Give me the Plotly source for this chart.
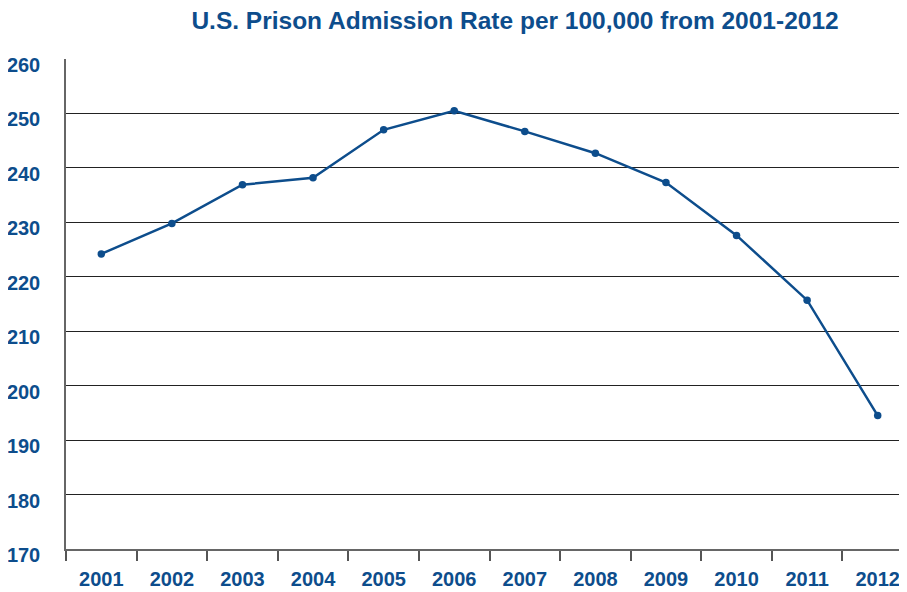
import plotly.graph_objects as go

years = ["2001", "2002", "2003", "2004", "2005", "2006",
         "2007", "2008", "2009", "2010", "2011", "2012"]
rates = [224.2, 229.8, 236.9, 238.2, 247.0, 250.5,
         246.7, 242.7, 237.3, 227.6, 215.7, 194.5]
y_ticks = [170, 180, 190, 200, 210, 220, 230, 240, 250, 260]

BLUE = "#0d4d8c"
FONT = "Liberation Sans, Arial, sans-serif"

fig = go.Figure()
fig.add_trace(go.Scatter(
    x=years, y=rates, mode="lines+markers",
    line=dict(color=BLUE, width=2.5),
    marker=dict(color=BLUE, size=7.5),
    cliponaxis=False, showlegend=False,
))

fig.update_layout(
    width=907, height=592,
    margin=dict(l=58, r=2, t=51, b=51, autoexpand=False),
    paper_bgcolor="white", plot_bgcolor="white",
    title=dict(
        text="<b>U.S. Prison Admission Rate per 100,000 from 2001-2012</b>",
        font=dict(family=FONT, size=24.5, color=BLUE),
        x=0.559, xanchor="center", y=0.979, yanchor="middle",
    ),
    xaxis=dict(
        type="category", range=[-0.5, 11.5], automargin=False,
        tickson="boundaries", ticks="outside", ticklen=10, tickwidth=1.5,
        tickcolor="#555555",
        showline=True, linecolor="#666666", linewidth=1.5,
        showgrid=False,
        tickfont=dict(family=FONT, size=20, color=BLUE, weight="bold"),
        ticklabelstandoff=11,
    ),
    yaxis=dict(
        range=[170, 260], tickvals=y_ticks, automargin=False,
        showgrid=True, gridcolor="#222222", gridwidth=1,
        showline=True, linecolor="#666666", linewidth=1.5,
        zeroline=False, ticks="",
        tickfont=dict(family=FONT, size=20, color=BLUE, weight="bold"),
        ticklabelstandoff=20, ticklabelshift=6,
    ),
)

fig.write_html("out.html")
